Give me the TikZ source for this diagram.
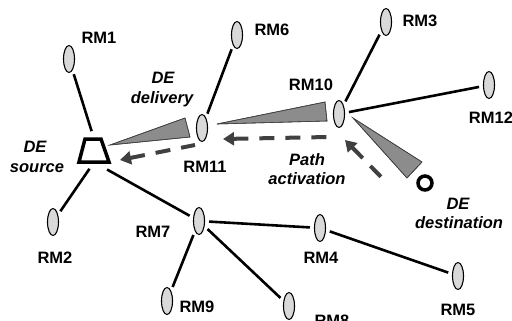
\documentclass[tikz,border=0pt]{standalone}
\usepackage{fontspec}
\setmainfont{Liberation Sans}
\usetikzlibrary{shapes.geometric,arrows.meta,calc}
\definecolor{rmgray}{HTML}{D9D9D9}
\definecolor{wedgegray}{HTML}{8C8C8C}
\definecolor{arrowgray}{HTML}{404040}
\begin{document}
\begin{tikzpicture}[x=1pt,y=-1pt,
  rm/.style={ellipse,draw=black,line width=1.1pt,fill=rmgray,minimum width=11pt,minimum height=27pt,inner sep=0pt},
  lbl/.style={font=\fontsize{16.5}{19.5}\selectfont\bfseries,anchor=base,inner sep=0pt},
  delbl/.style={font=\fontsize{16.5}{19.5}\selectfont\bfseries\itshape,anchor=base,inner sep=0pt},
  edge/.style={line width=2.6pt,shorten <=4pt,shorten >=4pt},
  wedge/.style={fill=wedgegray,draw=black!75,line width=0.6pt,line join=miter},
  darr/.style={draw=arrowgray,line width=4pt,dash pattern=on 15pt off 11pt,{Triangle[length=11pt,width=13pt]}-}]
\useasboundingbox (0,0) rectangle (512,321);

% ellipse nodes
\node[rm] (rm1)  at (69,59)   {};
\node[rm] (rm6)  at (237,35)  {};
\node[rm] (rm3)  at (386,22)  {};
\node[rm] (rm10) at (339,114) {};
\node[rm] (rm12) at (489,85)  {};
\node[rm] (rm11) at (202,128) {};
\node[rm] (rm7)  at (199,221) {};
\node[rm] (rm2)  at (53,222)  {};
\node[rm] (rm4)  at (320,228) {};
\node[rm] (rm5)  at (458,276) {};
\node[rm] (rm9)  at (167,301) {};
\node[rm] (rm8)  at (289,306) {};

% source and destination
\node[minimum width=30pt,minimum height=23pt,inner sep=0pt] (src) at (94,150.5) {};
\draw[line width=3.5pt,line join=miter] (85,139) -- (101,139) -- (109,162) -- (79,162) -- cycle;
\node[circle,draw=black,line width=3.5pt,minimum size=14pt,inner sep=0pt] (dst) at (425,183) {};

% edges
\draw[edge,shorten >=8pt] (rm1) -- (src.north);
\draw[edge,shorten <=8pt] (src.south) -- (rm2);
\draw[edge,shorten <=15pt] (src.south) -- (rm7);
\draw[edge] (rm6) -- (rm11);
\draw[edge] (rm3) -- (rm10);
\draw[edge] (rm10) -- (rm12);
\draw[edge] (rm7) -- (rm4);
\draw[edge] (rm4) -- (rm5);
\draw[edge] (rm7) -- (rm9);
\draw[edge] (rm7) -- (rm8);

% wedges
\fill[wedge] (110,145) -- (185,118) -- (190,137) -- cycle;
\fill[wedge] (217,124) -- (325,102) -- (327,121) -- cycle;
\fill[wedge] (353,118) -- (422,162) -- (407,178) -- cycle;
\draw[wedge,fill=none] (110,145) -- (185,118) -- (190,137) -- cycle;
\draw[wedge,fill=none] (217,124) -- (325,102) -- (327,121) -- cycle;
\draw[wedge,fill=none] (353,118) -- (422,162) -- (407,178) -- cycle;

% dashed arrows (path activation)
\coordinate (a1h) at ($(rm11)+(21,11)$);
\coordinate (a1t) at ($(rm10)+(-10,23)$);
\coordinate (a2h) at ($(src)+(26,9.5)$);
\coordinate (a2t) at ($(rm11)+(-7,17)$);
\coordinate (a3h) at ($(rm10)+(6,26)$);
\coordinate (a3t) at ($(dst)+(-38,0)$);
\draw[darr] (a1h) -- (a1t);
\draw[darr] (a2h) -- (a2t);
\draw[darr] (a3h) -- (a3t);

% RM labels
\node[lbl] (t1)  at (99,43.7)   {RM1};
\node[lbl] (t6)  at (272,35.7)  {RM6};
\node[lbl] (t3)  at (420,26.2)  {RM3};
\node[lbl] (t10) at (311,90.7)  {RM10};
\node[lbl] (t12) at (491,123.2) {RM12};
\node[lbl] (t11) at (205,172.7) {RM11};
\node[lbl] (t7)  at (153,237.7) {RM7};
\node[lbl] (t2)  at (55,263.7)  {RM2};
\node[lbl] (t4)  at (321,263.7) {RM4};
\node[lbl] (t9)  at (197,312.7) {RM9};
\node[lbl] (t5)  at (458,315.7) {RM5};
\node[lbl] (t8)  at (332,326.7) {RM8};

% DE labels
\node[delbl] (ds1) at (35,153)    {DE};
\node[delbl] (ds2) at (37,172.5)  {source};
\node[delbl] (dd1) at (163,83.5)  {DE};
\node[delbl] (dd2) at (162,103)   {delivery};
\node[delbl] (dt1) at (458,209)   {DE};
\node[delbl] (dt2) at (459,228.5) {destination};
\node[delbl] (pa1) at (307,165)   {Path};
\node[delbl] (pa2) at (307,184.5) {activation};
\end{tikzpicture}
\end{document}
